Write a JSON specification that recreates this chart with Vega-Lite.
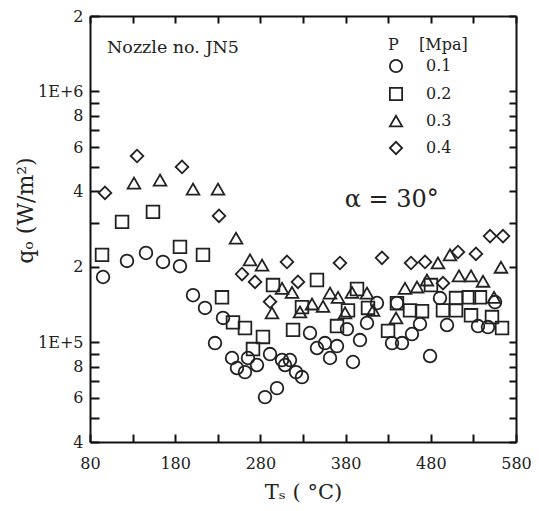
{
  "$schema": "https://vega.github.io/schema/vega-lite/v6.json",
  "width": 426,
  "height": 426,
  "autosize": "none",
  "padding": {"left": 90, "top": 16, "right": 23, "bottom": 69},
  "background": "white",
  "data": {
    "values": [
      {"T": 97.6, "q": 394000, "P": "0.4"},
      {"T": 135.2, "q": 553000, "P": "0.4"},
      {"T": 188, "q": 500000, "P": "0.4"},
      {"T": 231.4, "q": 319000, "P": "0.4"},
      {"T": 258.4, "q": 187000, "P": "0.4"},
      {"T": 273.7, "q": 174000, "P": "0.4"},
      {"T": 311.2, "q": 209000, "P": "0.4"},
      {"T": 324.1, "q": 174000, "P": "0.4"},
      {"T": 291.3, "q": 145000, "P": "0.4"},
      {"T": 373.4, "q": 207000, "P": "0.4"},
      {"T": 422.7, "q": 217000, "P": "0.4"},
      {"T": 456.8, "q": 207000, "P": "0.4"},
      {"T": 473.2, "q": 209000, "P": "0.4"},
      {"T": 494.3, "q": 172000, "P": "0.4"},
      {"T": 511.9, "q": 229000, "P": "0.4"},
      {"T": 533, "q": 225000, "P": "0.4"},
      {"T": 549.5, "q": 265000, "P": "0.4"},
      {"T": 564.7, "q": 265000, "P": "0.4"},

      {"T": 131.6, "q": 431000, "P": "0.3"},
      {"T": 162.2, "q": 443000, "P": "0.3"},
      {"T": 200.9, "q": 408000, "P": "0.3"},
      {"T": 230.2, "q": 408000, "P": "0.3"},
      {"T": 251.4, "q": 260000, "P": "0.3"},
      {"T": 267.8, "q": 213000, "P": "0.3"},
      {"T": 281.9, "q": 203000, "P": "0.3"},
      {"T": 305.4, "q": 164000, "P": "0.3"},
      {"T": 317.1, "q": 158000, "P": "0.3"},
      {"T": 293.6, "q": 131000, "P": "0.3"},
      {"T": 326.5, "q": 132000, "P": "0.3"},
      {"T": 340.6, "q": 142000, "P": "0.3"},
      {"T": 353.5, "q": 139000, "P": "0.3"},
      {"T": 361.7, "q": 157000, "P": "0.3"},
      {"T": 371.1, "q": 151000, "P": "0.3"},
      {"T": 387.5, "q": 158000, "P": "0.3"},
      {"T": 405.1, "q": 157000, "P": "0.3"},
      {"T": 379.3, "q": 131000, "P": "0.3"},
      {"T": 412.2, "q": 134000, "P": "0.3"},
      {"T": 439.2, "q": 125000, "P": "0.3"},
      {"T": 449.7, "q": 164000, "P": "0.3"},
      {"T": 463.8, "q": 166000, "P": "0.3"},
      {"T": 475.5, "q": 177000, "P": "0.3"},
      {"T": 488.4, "q": 207000, "P": "0.3"},
      {"T": 502.5, "q": 223000, "P": "0.3"},
      {"T": 513.1, "q": 184000, "P": "0.3"},
      {"T": 527.2, "q": 184000, "P": "0.3"},
      {"T": 541.3, "q": 175000, "P": "0.3"},
      {"T": 554.2, "q": 151000, "P": "0.3"},
      {"T": 562.4, "q": 199000, "P": "0.3"},

      {"T": 94.1, "q": 223000, "P": "0.2"},
      {"T": 117.6, "q": 302000, "P": "0.2"},
      {"T": 153.9, "q": 331000, "P": "0.2"},
      {"T": 185.6, "q": 240000, "P": "0.2"},
      {"T": 212.6, "q": 223000, "P": "0.2"},
      {"T": 234.9, "q": 151000, "P": "0.2"},
      {"T": 247.8, "q": 120000, "P": "0.2"},
      {"T": 261.9, "q": 114000, "P": "0.2"},
      {"T": 283, "q": 105000, "P": "0.2"},
      {"T": 271.3, "q": 93900, "P": "0.2"},
      {"T": 294.8, "q": 169000, "P": "0.2"},
      {"T": 318.3, "q": 112000, "P": "0.2"},
      {"T": 328.8, "q": 138000, "P": "0.2"},
      {"T": 346.4, "q": 177000, "P": "0.2"},
      {"T": 369.9, "q": 116000, "P": "0.2"},
      {"T": 382.8, "q": 134000, "P": "0.2"},
      {"T": 393.4, "q": 163000, "P": "0.2"},
      {"T": 406.3, "q": 137000, "P": "0.2"},
      {"T": 429.8, "q": 111000, "P": "0.2"},
      {"T": 440.3, "q": 143000, "P": "0.2"},
      {"T": 455.6, "q": 134000, "P": "0.2"},
      {"T": 469.7, "q": 133000, "P": "0.2"},
      {"T": 480.2, "q": 169000, "P": "0.2"},
      {"T": 494.3, "q": 134000, "P": "0.2"},
      {"T": 509.6, "q": 150000, "P": "0.2"},
      {"T": 509.6, "q": 134000, "P": "0.2"},
      {"T": 524.8, "q": 151000, "P": "0.2"},
      {"T": 527.2, "q": 128000, "P": "0.2"},
      {"T": 537.7, "q": 151000, "P": "0.2"},
      {"T": 551.8, "q": 126000, "P": "0.2"},
      {"T": 563.6, "q": 114000, "P": "0.2"},

      {"T": 95.3, "q": 182000, "P": "0.1"},
      {"T": 123.4, "q": 211000, "P": "0.1"},
      {"T": 145.7, "q": 227000, "P": "0.1"},
      {"T": 165.7, "q": 209000, "P": "0.1"},
      {"T": 185.6, "q": 201000, "P": "0.1"},
      {"T": 200.9, "q": 154000, "P": "0.1"},
      {"T": 215, "q": 137000, "P": "0.1"},
      {"T": 236.1, "q": 125000, "P": "0.1"},
      {"T": 226.7, "q": 99200, "P": "0.1"},
      {"T": 246.7, "q": 86500, "P": "0.1"},
      {"T": 252.5, "q": 78900, "P": "0.1"},
      {"T": 261.9, "q": 76000, "P": "0.1"},
      {"T": 265.4, "q": 86500, "P": "0.1"},
      {"T": 276, "q": 81100, "P": "0.1"},
      {"T": 291.3, "q": 89700, "P": "0.1"},
      {"T": 305.4, "q": 84900, "P": "0.1"},
      {"T": 314.7, "q": 84900, "P": "0.1"},
      {"T": 308.9, "q": 81100, "P": "0.1"},
      {"T": 321.8, "q": 76000, "P": "0.1"},
      {"T": 328.8, "q": 72600, "P": "0.1"},
      {"T": 285.4, "q": 60400, "P": "0.1"},
      {"T": 299.5, "q": 65600, "P": "0.1"},
      {"T": 338.2, "q": 108800, "P": "0.1"},
      {"T": 346.4, "q": 94800, "P": "0.1"},
      {"T": 355.8, "q": 99200, "P": "0.1"},
      {"T": 369.9, "q": 96500, "P": "0.1"},
      {"T": 361.7, "q": 86500, "P": "0.1"},
      {"T": 388.7, "q": 83400, "P": "0.1"},
      {"T": 396.9, "q": 102000, "P": "0.1"},
      {"T": 381.6, "q": 112800, "P": "0.1"},
      {"T": 405.1, "q": 119300, "P": "0.1"},
      {"T": 416.8, "q": 143300, "P": "0.1"},
      {"T": 434.5, "q": 99200, "P": "0.1"},
      {"T": 446.2, "q": 99200, "P": "0.1"},
      {"T": 457.9, "q": 107800, "P": "0.1"},
      {"T": 467.3, "q": 118200, "P": "0.1"},
      {"T": 440.3, "q": 143300, "P": "0.1"},
      {"T": 479.1, "q": 88100, "P": "0.1"},
      {"T": 499, "q": 117100, "P": "0.1"},
      {"T": 490.8, "q": 150000, "P": "0.1"},
      {"T": 535.4, "q": 116000, "P": "0.1"},
      {"T": 547.1, "q": 114900, "P": "0.1"},
      {"T": 555.4, "q": 144600, "P": "0.1"}
    ]
  },
  "layer": [
    {
      "mark": {"type": "point", "filled": false, "color": "#222", "strokeWidth": 1.8, "size": 160, "opacity": 1},
      "encoding": {
        "x": {
          "field": "T", "type": "quantitative",
          "scale": {"domain": [80, 580], "nice": false, "zero": false},
          "axis": {
            "orient": "bottom",
            "grid": false,
            "domainColor": "#111", "domainWidth": 2,
            "ticks": true,
            "tickColor": "#111", "tickWidth": 2, "tickSize": -8,
            "values": [80, 130, 180, 230, 280, 330, 380, 430, 480, 530, 580],
            "format": "d",
            "labelExpr": "(datum.value - 80) % 100 == 0 ? datum.label : ''",
            "labelFont": "DejaVu Serif", "labelFontSize": 16, "labelColor": "#222",
            "labelPadding": 21,
            "labelFlush": false,
            "title": "Tₛ ( °C)",
            "titleFont": "DejaVu Serif", "titleFontSize": 21, "titleFontWeight": "normal", "titleColor": "#222",
            "titlePadding": 10
          }
        },
        "y": {
          "field": "q", "type": "quantitative",
          "scale": {"type": "log", "domain": [40000, 2000000], "nice": false},
          "axis": {
            "orient": "left",
            "grid": false,
            "domainColor": "#111", "domainWidth": 2,
            "ticks": true,
            "tickColor": "#111", "tickWidth": 2, "tickSize": -9,
            "values": [40000, 50000, 60000, 70000, 80000, 90000, 100000, 200000, 300000, 400000, 500000, 600000, 700000, 800000, 900000, 1000000, 2000000],
            "labelExpr": "datum.value == 1000000 ? '1E+6' : datum.value == 100000 ? '1E+5' : (datum.value == 2000000 || datum.value == 200000) ? '2' : (datum.value == 400000 || datum.value == 40000) ? '4' : (datum.value == 600000 || datum.value == 60000) ? '6' : (datum.value == 800000 || datum.value == 80000) ? '8' : ''",
            "labelFont": "DejaVu Serif", "labelFontSize": 16, "labelColor": "#222",
            "labelPadding": 16,
            "labelFlush": false,
            "title": "qₒ (W/m²)",
            "titleFont": "DejaVu Serif", "titleFontSize": 22, "titleFontWeight": "normal", "titleColor": "#222",
            "titleX": -53,
            "titleY": 194,
            "titleAlign": "center"
          }
        },
        "shape": {
          "field": "P", "type": "nominal",
          "scale": {"domain": ["0.1", "0.2", "0.3", "0.4"], "range": ["circle", "square", "triangle-up", "diamond"]},
          "legend": {
            "title": "P\u00a0\u00a0\u00a0\u00a0[Mpa]",
            "orient": "none",
            "legendX": 298,
            "legendY": 21,
            "titleFont": "DejaVu Serif", "titleFontSize": 16, "titleFontWeight": "normal", "titleColor": "#222",
            "labelFont": "DejaVu Serif", "labelFontSize": 16, "labelColor": "#222",
            "symbolSize": 150,
            "symbolStrokeWidth": 1.8,
            "symbolStrokeColor": "#222",
            "symbolFillColor": "transparent",
            "rowPadding": 8,
            "labelOffset": 22,
            "titlePadding": 5,
            "padding": 0
          }
        }
      }
    },
    {
      "mark": {"type": "point", "opacity": 0},
      "encoding": {
        "x": {
          "field": "T", "type": "quantitative",
          "axis": {
            "orient": "top", "grid": false, "title": null, "labels": false,
            "domainColor": "#111", "domainWidth": 2,
            "ticks": true,
            "tickColor": "#111", "tickWidth": 2, "tickSize": -7,
            "values": [80, 130, 180, 230, 280, 330, 380, 430, 480, 530, 580]
          }
        },
        "y": {
          "field": "q", "type": "quantitative",
          "axis": {
            "orient": "right", "grid": false, "title": null, "labels": false,
            "domainColor": "#111", "domainWidth": 2,
            "ticks": true,
            "tickColor": "#111", "tickWidth": 2, "tickSize": -7,
            "values": [40000, 50000, 60000, 70000, 80000, 90000, 100000, 200000, 300000, 400000, 500000, 600000, 700000, 800000, 900000, 1000000, 2000000]
          }
        }
      }
    },
    {
      "data": {"values": [{"label": "Nozzle no. JN5"}]},
      "mark": {"type": "text", "align": "left", "baseline": "middle", "font": "DejaVu Serif", "fontSize": 17.5, "color": "#222"},
      "encoding": {
        "text": {"field": "label"},
        "x": {"datum": 100, "type": "quantitative", "axis": null},
        "y": {"datum": 1490000, "type": "quantitative", "axis": null}
      }
    },
    {
      "data": {"values": [{"label": "α = 30°"}]},
      "mark": {"type": "text", "align": "left", "baseline": "middle", "font": "DejaVu Serif", "fontSize": 24, "color": "#222"},
      "encoding": {
        "text": {"field": "label"},
        "x": {"datum": 379, "type": "quantitative", "axis": null},
        "y": {"datum": 370000, "type": "quantitative", "axis": null}
      }
    }
  ],
  "resolve": {"axis": {"x": "independent", "y": "independent"}}
}
